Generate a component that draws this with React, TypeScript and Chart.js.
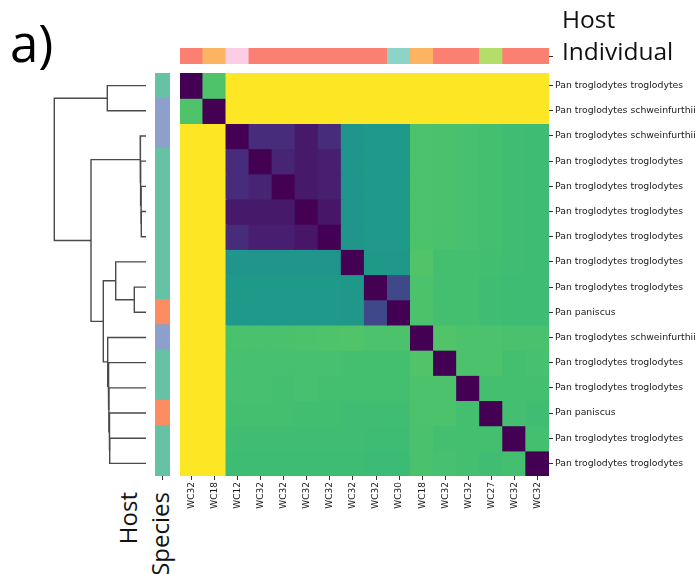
import React, { useEffect, useRef } from 'react';
import { Chart, registerables } from 'chart.js';

Chart.register(...registerables);

// ---------------- data ----------------
const hostIndividuals = [
  'WC32', 'WC18', 'WC12', 'WC32', 'WC32', 'WC32', 'WC32', 'WC32',
  'WC32', 'WC30', 'WC18', 'WC32', 'WC32', 'WC27', 'WC32', 'WC32',
];

const hostSpecies = [
  'Pan troglodytes troglodytes',
  'Pan troglodytes schweinfurthii',
  'Pan troglodytes schweinfurthii',
  'Pan troglodytes troglodytes',
  'Pan troglodytes troglodytes',
  'Pan troglodytes troglodytes',
  'Pan troglodytes troglodytes',
  'Pan troglodytes troglodytes',
  'Pan troglodytes troglodytes',
  'Pan paniscus',
  'Pan troglodytes schweinfurthii',
  'Pan troglodytes troglodytes',
  'Pan troglodytes troglodytes',
  'Pan paniscus',
  'Pan troglodytes troglodytes',
  'Pan troglodytes troglodytes',
];

// pairwise distance (0 = identical, 1 = max)
const distances = [
  [0, 0.72, 1, 1, 1, 1, 1, 1, 1, 1, 1, 1, 1, 1, 1, 1],
  [0.72, 0, 1, 1, 1, 1, 1, 1, 1, 1, 1, 1, 1, 1, 1, 1],
  [1, 1, 0, 0.125, 0.125, 0.068, 0.125, 0.52, 0.54, 0.54, 0.715, 0.71, 0.705, 0.7, 0.69, 0.685],
  [1, 1, 0.125, 0, 0.1, 0.068, 0.085, 0.52, 0.54, 0.54, 0.715, 0.71, 0.705, 0.7, 0.69, 0.685],
  [1, 1, 0.125, 0.1, 0, 0.068, 0.085, 0.52, 0.54, 0.54, 0.715, 0.71, 0.705, 0.7, 0.69, 0.685],
  [1, 1, 0.068, 0.068, 0.068, 0, 0.06, 0.52, 0.54, 0.54, 0.715, 0.71, 0.705, 0.7, 0.69, 0.685],
  [1, 1, 0.125, 0.085, 0.085, 0.06, 0, 0.52, 0.54, 0.54, 0.715, 0.71, 0.705, 0.7, 0.69, 0.685],
  [1, 1, 0.52, 0.52, 0.52, 0.52, 0.52, 0, 0.53, 0.53, 0.725, 0.7, 0.7, 0.695, 0.69, 0.685],
  [1, 1, 0.54, 0.54, 0.54, 0.54, 0.54, 0.53, 0, 0.214, 0.715, 0.7, 0.7, 0.69, 0.685, 0.685],
  [1, 1, 0.54, 0.54, 0.54, 0.54, 0.54, 0.53, 0.214, 0, 0.715, 0.7, 0.7, 0.69, 0.685, 0.685],
  [1, 1, 0.71, 0.71, 0.71, 0.715, 0.72, 0.725, 0.715, 0.715, 0, 0.725, 0.715, 0.715, 0.71, 0.71],
  [1, 1, 0.705, 0.705, 0.705, 0.705, 0.705, 0.7, 0.7, 0.7, 0.725, 0, 0.715, 0.715, 0.7, 0.705],
  [1, 1, 0.705, 0.705, 0.7, 0.705, 0.7, 0.7, 0.7, 0.7, 0.715, 0.715, 0, 0.7, 0.7, 0.7],
  [1, 1, 0.7, 0.7, 0.7, 0.695, 0.695, 0.69, 0.69, 0.69, 0.715, 0.715, 0.7, 0, 0.7, 0.69],
  [1, 1, 0.69, 0.69, 0.69, 0.69, 0.69, 0.69, 0.685, 0.685, 0.71, 0.7, 0.7, 0.7, 0, 0.7],
  [1, 1, 0.685, 0.685, 0.685, 0.685, 0.685, 0.685, 0.68, 0.68, 0.71, 0.705, 0.7, 0.69, 0.7, 0],
];

// hierarchical clustering linkage: [childA, childB, height]; clusters numbered from 16
const linkage: [number, number, number][] = [
  [5, 6, 0.047],
  [4, 16, 0.05],
  [3, 17, 0.054],
  [2, 18, 0.058],
  [8, 9, 0.117],
  [14, 15, 0.363],
  [13, 21, 0.367],
  [12, 22, 0.371],
  [11, 23, 0.377],
  [10, 24, 0.383],
  [7, 20, 0.303],
  [0, 1, 0.387],
  [26, 25, 0.427],
  [19, 28, 0.55],
  [27, 29, 0.917],
];

const individualColors: Record<string, string> = {
  WC32: '#fb8072',
  WC18: '#fdb462',
  WC12: '#fccde5',
  WC30: '#8dd3c7',
  WC27: '#b3de69',
};

const speciesColors: Record<string, string> = {
  'Pan troglodytes troglodytes': '#66c2a5',
  'Pan troglodytes schweinfurthii': '#8da0cb',
  'Pan paniscus': '#fc8d62',
};

const viridisStops = [
  '#440154', '#471365', '#482475', '#463480', '#414487', '#3b528b', '#355f8d',
  '#2f6c8e', '#2a788e', '#25848e', '#21918c', '#1e9c89', '#22a884', '#2fb47c',
  '#44bf70', '#5ec962', '#7ad151', '#9bd93c', '#bddf26', '#dfe318', '#fde725',
];

// ---------------- helpers ----------------
function hexToRgb(h: string) {
  return [parseInt(h.slice(1, 3), 16), parseInt(h.slice(3, 5), 16), parseInt(h.slice(5, 7), 16)];
}

function viridis(t: number) {
  const v = Math.max(0, Math.min(1, t)) * (viridisStops.length - 1);
  const i = Math.min(Math.floor(v), viridisStops.length - 2);
  const f = v - i;
  const a = hexToRgb(viridisStops[i]);
  const b = hexToRgb(viridisStops[i + 1]);
  const c = a.map((x, k) => Math.round(x + (b[k] - x) * f));
  return `rgb(${c[0]},${c[1]},${c[2]})`;
}

const zeroPad = (s: any) => {
  s.paddingTop = 0;
  s.paddingBottom = 0;
  s.paddingLeft = 0;
  s.paddingRight = 0;
};

const baseOptions = {
  animation: false,
  responsive: false,
  maintainAspectRatio: false,
  devicePixelRatio: 1,
  events: [],
  layout: { padding: 0 },
  plugins: { legend: { display: false }, tooltip: { enabled: false }, title: { display: false } },
};

const tickGrid = { drawOnChartArea: false, drawTicks: true, tickLength: 4, color: '#333', lineWidth: 1 };

function ChartCanvas({ left, top, width, height, makeConfig }: any) {
  const ref = useRef<HTMLCanvasElement>(null);
  useEffect(() => {
    const chart = new Chart(ref.current as HTMLCanvasElement, makeConfig());
    return () => chart.destroy();
  }, []);
  return (
    <canvas
      ref={ref}
      width={width}
      height={height}
      style={{ position: 'absolute', left, top, width, height, display: 'block' }}
    />
  );
}

// ---------------- chart configs ----------------
const heatmapConfig = (): any => ({
  type: 'bar',
  data: {
    labels: hostIndividuals,
    datasets: distances.map((row, i) => ({
      label: hostSpecies[i],
      data: row.map(() => [i, i + 1]),
      backgroundColor: row.map((v) => viridis(v)),
      borderWidth: 0,
      barPercentage: 1,
      categoryPercentage: 1,
      grouped: false,
      inflateAmount: 0.6,
    })),
  },
  options: {
    ...baseOptions,
    scales: {
      x: {
        type: 'category',
        position: 'bottom',
        offset: true,
        grid: { ...tickGrid, offset: false },
        border: { display: false },
        ticks: {
          autoSkip: false,
          maxRotation: 90,
          minRotation: 90,
          padding: 2,
          color: '#1a1a1a',
          font: { family: 'DejaVu Sans', size: 9 },
        },
        afterFit: (s: any) => {
          s.height = 60;
          zeroPad(s);
        },
      },
      y: {
        type: 'linear',
        position: 'right',
        min: 0,
        max: hostSpecies.length,
        reverse: true,
        afterBuildTicks: (s: any) => {
          s.ticks = hostSpecies.map((_, i) => ({ value: i + 0.5 }));
        },
        ticks: {
          autoSkip: false,
          padding: 2,
          color: '#1a1a1a',
          font: { family: 'DejaVu Sans', size: 9.3 },
          callback: (_v: any, i: number) => hostSpecies[i],
        },
        grid: tickGrid,
        border: { display: false },
        afterFit: (s: any) => {
          s.width = 150;
          zeroPad(s);
        },
      },
    },
  },
});

const individualConfig = (): any => ({
  type: 'bar',
  data: {
    labels: hostIndividuals,
    datasets: [
      {
        data: hostIndividuals.map(() => 1),
        backgroundColor: hostIndividuals.map((h) => individualColors[h]),
        borderWidth: 0,
        barPercentage: 1,
        categoryPercentage: 1,
        inflateAmount: 0.6,
      },
    ],
  },
  options: {
    ...baseOptions,
    scales: {
      x: { type: 'category', display: false, offset: true },
      y: {
        type: 'linear',
        position: 'right',
        min: 0,
        max: 1,
        afterBuildTicks: (s: any) => {
          s.ticks = [{ value: 0.5 }];
        },
        ticks: { callback: () => '', padding: 0 },
        grid: tickGrid,
        border: { display: false },
        afterFit: (s: any) => {
          s.width = 20;
          zeroPad(s);
        },
      },
    },
  },
});

const speciesConfig = (): any => ({
  type: 'bar',
  data: {
    labels: hostSpecies,
    datasets: [
      {
        data: hostSpecies.map(() => 1),
        backgroundColor: hostSpecies.map((s) => speciesColors[s]),
        borderWidth: 0,
        barPercentage: 1,
        categoryPercentage: 1,
        inflateAmount: 0.6,
      },
    ],
  },
  options: {
    ...baseOptions,
    indexAxis: 'y',
    scales: {
      y: { type: 'category', display: false, offset: true },
      x: {
        type: 'linear',
        position: 'bottom',
        min: 0,
        max: 1,
        afterBuildTicks: (s: any) => {
          s.ticks = [{ value: 0.5 }];
        },
        ticks: { callback: () => '', padding: 0 },
        grid: tickGrid,
        border: { display: false },
        afterFit: (s: any) => {
          s.height = 6;
          zeroPad(s);
        },
      },
    },
  },
});

function buildDendrogram() {
  const n = hostSpecies.length;
  const pos: number[] = hostSpecies.map((_, i) => i + 0.5);
  const height: number[] = hostSpecies.map(() => 0);
  const segments: { x: number; y: number }[][] = [];
  linkage.forEach(([a, b, h], k) => {
    const ya = pos[a];
    const yb = pos[b];
    pos[n + k] = (ya + yb) / 2;
    height[n + k] = h;
    segments.push([
      { x: height[a], y: ya },
      { x: h, y: ya },
      { x: h, y: yb },
      { x: height[b], y: yb },
    ]);
  });
  return segments;
}

const dendrogramConfig = (): any => ({
  type: 'scatter',
  data: {
    datasets: buildDendrogram().map((seg) => ({
      data: seg,
      showLine: true,
      borderColor: '#4a4a4a',
      borderWidth: 1.4,
      pointRadius: 0,
      fill: false,
      tension: 0,
      clip: false,
    })),
  },
  options: {
    ...baseOptions,
    scales: {
      x: { type: 'linear', display: false, min: 0, max: 1.1, reverse: true },
      y: { type: 'linear', display: false, min: 0, max: hostSpecies.length, reverse: true },
    },
  },
});

// ---------------- app ----------------
export default function App() {
  const bigText = { position: 'absolute' as const, fontFamily: '"Open Sans"', whiteSpace: 'nowrap' as const, color: '#111' };
  return (
    <div
      style={{
        position: 'absolute',
        left: 0,
        top: 0,
        width: 699,
        height: 574,
        overflow: 'hidden',
        background: '#fff',
      }}
    >
      <ChartCanvas left={36} top={73} width={110} height={403} makeConfig={dendrogramConfig} />
      <ChartCanvas left={155} top={73} width={15} height={409} makeConfig={speciesConfig} />
      <ChartCanvas left={180} top={48} width={389} height={16} makeConfig={individualConfig} />
      <ChartCanvas left={180} top={73} width={519} height={463} makeConfig={heatmapConfig} />

      <div style={{ ...bigText, left: 10, top: 17, fontSize: 51, lineHeight: '51px', color: '#000' }}>a)</div>

      <div style={{ ...bigText, left: 562, top: 3, fontSize: 24.5, lineHeight: '32px' }}>
        <div>Host</div>
        <div>Individual</div>
      </div>

      <div
        style={{
          ...bigText,
          left: 112,
          top: 582,
          width: 90,
          fontSize: 24,
          lineHeight: '32px',
          textAlign: 'right',
          transform: 'rotate(-90deg)',
          transformOrigin: '0 0',
        }}
      >
        <div>Host</div>
        <div>Species</div>
      </div>
    </div>
  );
}
